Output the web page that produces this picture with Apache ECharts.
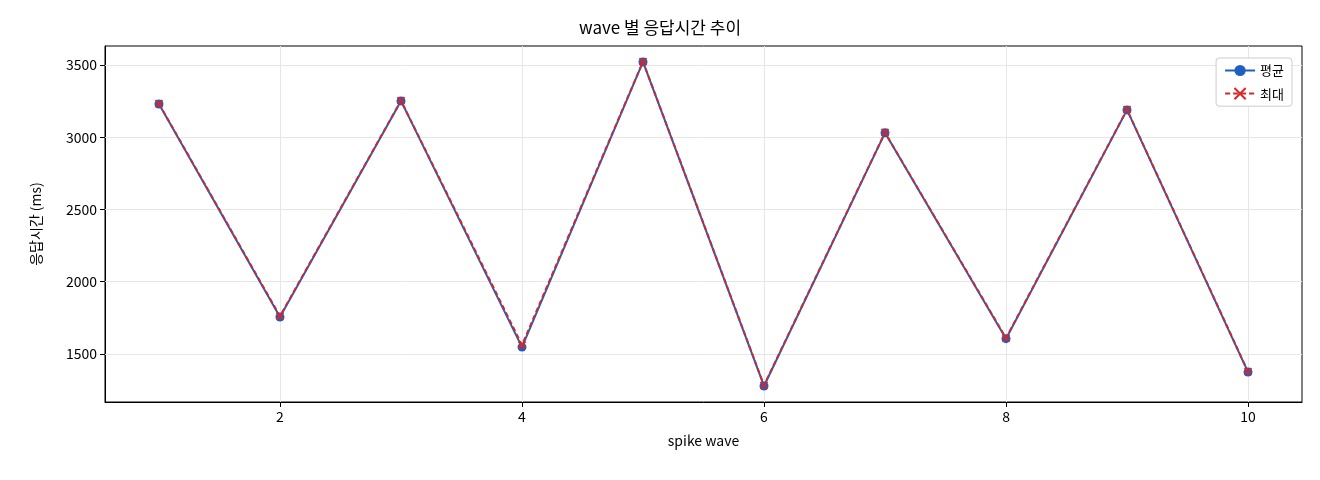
<!DOCTYPE html>
<html><head><meta charset="utf-8">
<script src="https://cdn.jsdelivr.net/npm/echarts@6/dist/echarts.min.js"></script>
<style>html,body{margin:0;background:#fff}#c{width:1320px;height:480px}</style>
</head><body><div id="c"></div>
<script>
const waves = [1,2,3,4,5,6,7,8,9,10];
const avgMs = [3230,1756,3251,1548,3521,1279,3030,1606,3189,1375];
const maxMs = [3232,1762,3253,1562,3523,1283,3032,1610,3191,1378];
const xTicks = [2,4,6,8,10];
const yTicks = [1500,2000,2500,3000,3500];
const F = '"Noto Sans CJK KR", "DejaVu Sans", sans-serif';
const chart = echarts.init(document.getElementById('c'));
const gridLines = xTicks.map(v=>({xAxis:v})).concat(yTicks.map(v=>({yAxis:v})));
chart.setOption({
  animation:false,
  textStyle:{fontFamily:F},
  title:{text:'wave 별 응답시간 추이',left:'center',top:14,textStyle:{fontFamily:F,fontSize:17,fontWeight:'normal',color:'#000'}},
  grid:{left:105,right:18,top:46,bottom:78},
  legend:{right:28,top:58,orient:'vertical',itemGap:10,backgroundColor:'#fff',borderColor:'#ccc',borderWidth:1,borderRadius:3,padding:[6,8],
    textStyle:{fontFamily:F,fontSize:13,color:'#000'},itemWidth:30,data:['평균','최대']},
  xAxis:{type:'value',min:0.554,max:10.446,name:'spike wave',nameLocation:'middle',nameGap:32,
    nameTextStyle:{fontFamily:F,fontSize:14,color:'#000'},
    axisLine:{lineStyle:{color:'#000'}},
    axisTick:{show:true,customValues:xTicks,lineStyle:{color:'#000'}},
    axisLabel:{color:'#000',fontSize:14,customValues:xTicks,formatter:v=>String(v)},
    splitLine:{show:false}},
  yAxis:{type:'value',min:1168,max:3631,name:'응답시간 (ms)',nameLocation:'middle',nameGap:62,
    nameTextStyle:{fontFamily:F,fontSize:14,color:'#000'},
    axisLine:{show:true,lineStyle:{color:'#000'}},
    axisLabel:{color:'#000',fontSize:14,customValues:yTicks,formatter:v=>String(v)},
    axisTick:{show:true,customValues:yTicks,lineStyle:{color:'#000'}},
    splitLine:{show:false}},
  series:[
    {name:'평균',type:'line',data:waves.map((w,i)=>[w,avgMs[i]]),symbol:'circle',symbolSize:9,
     lineStyle:{color:'#1f5fbf',width:2},itemStyle:{color:'#1f5fbf'},z:3,
     markLine:{silent:true,symbol:'none',label:{show:false},lineStyle:{color:'#e6e6e6',type:'solid',width:1},data:gridLines,z:1}},
    {name:'최대',type:'line',data:waves.map((w,i)=>[w,maxMs[i]]),symbol:'path://M0,0L10,10M10,0L0,10',symbolSize:7,z:4,
     lineStyle:{color:'#d62728',width:2,type:[5,3]},itemStyle:{color:'#d62728',borderColor:'#d62728',borderWidth:2}}
  ],
  graphic:[{type:'rect',shape:{x:105,y:46,width:1320-105-18,height:480-46-78},style:{fill:'none',stroke:'#000',lineWidth:1},silent:true}]
});
</script></body></html>
